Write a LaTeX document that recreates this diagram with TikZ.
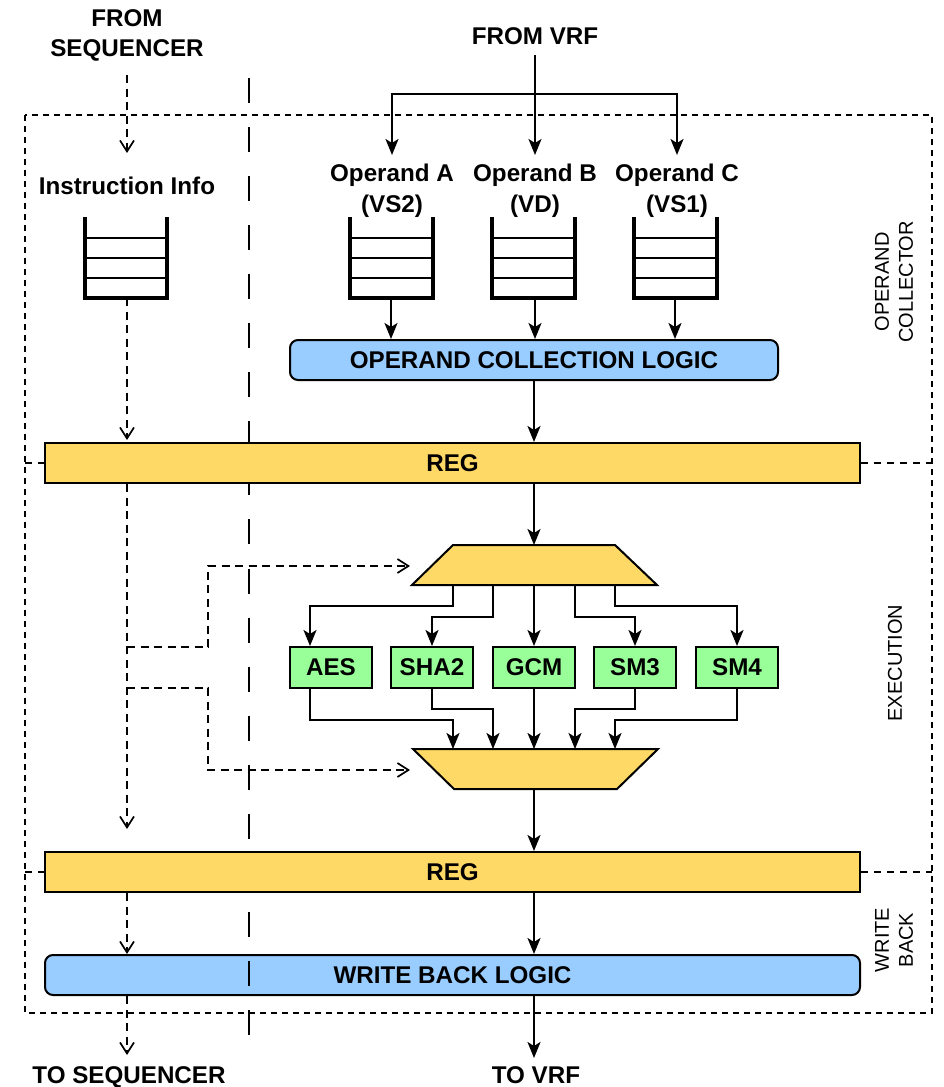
\documentclass[tikz,border=0pt]{standalone}
\usepackage{fontspec}
\setmainfont{Liberation Sans}
\usetikzlibrary{arrows.meta,calc}
\definecolor{regY}{RGB}{255,217,102}
\definecolor{logB}{RGB}{153,204,255}
\definecolor{unitG}{RGB}{153,255,153}
\newcommand\drawqueue[1]{%
  \draw[qwall] (#1.north west) -- (#1.south west) -- (#1.south east) -- (#1.north east);
  \foreach \dd in {21,41,61} {\draw[qline] ($(#1.north west)+(0,\dd)$) -- ($(#1.north east)+(0,\dd)$);}%
}
\begin{document}
\begin{tikzpicture}[x=1pt,y=-1pt,
  lbl/.style={font=\fontsize{24.2}{31}\selectfont\bfseries, align=center, inner sep=0pt},
  side/.style={font=\fontsize{20}{24}\selectfont, align=center, rotate=90, inner sep=0pt},
  boxfont/.style={font=\fontsize{24.2}{28}\selectfont\bfseries},
  regbox/.style={draw, line width=2pt, fill=regY, minimum width=815pt, minimum height=40pt, inner sep=0pt, boxfont},
  logicbox/.style={draw, line width=2pt, fill=logB, rounded corners=8pt, minimum height=40pt, inner sep=0pt, boxfont},
  unitbox/.style={draw, line width=2pt, fill=unitG, minimum width=82pt, minimum height=41pt, inner sep=0pt, boxfont},
  muxshape/.style={draw, line width=2pt, fill=regY, line join=miter},
  qbox/.style={minimum width=83pt, minimum height=81pt, inner sep=0pt, outer sep=0pt},
  qwall/.style={line width=4pt, line join=miter},
  qline/.style={line width=2pt},
  border/.style={line width=2pt, dash pattern=on 6pt off 5pt},
  sepline/.style={line width=2pt, dash pattern=on 7pt off 6pt},
  longdash/.style={line width=2pt, dash pattern=on 25pt off 24.05pt},
  conn/.style={line width=2pt, -{Stealth[length=16pt,width=13pt,inset=4pt]}},
  ctrl/.style={line width=2pt, dash pattern=on 8pt off 5.5pt, -{Straight Barb[length=11pt,width=14pt,line width=1.7pt]}}
]
\useasboundingbox (0,0) rectangle (943,1087);

% outer dotted border
\draw[border] (25,115) rectangle (932,1013);

% text labels
\node[lbl, anchor=north, font=\fontsize{24.2}{30}\selectfont\bfseries] (seq) at (127,9.5) {FROM\\SEQUENCER};
\node[lbl] (vrf) at (535,36) {FROM VRF};
\node[lbl] (info) at (127,186) {Instruction Info};
\node[lbl, anchor=north, font=\fontsize{24.2}{31}\selectfont\bfseries] (opA) at (392,164) {Operand A\\(VS2)};
\node[lbl, anchor=north, font=\fontsize{24.2}{31}\selectfont\bfseries] (opB) at (535,164) {Operand B\\(VD)};
\node[lbl, anchor=north, font=\fontsize{24.2}{31}\selectfont\bfseries] (opC) at (677,164) {Operand C\\(VS1)};
\node[lbl, anchor=north] (toseq) at (129,1066.5) {TO SEQUENCER};
\node[lbl, anchor=north] (tovrf) at (536,1066.5) {TO VRF};

% side labels
\node[side] (secOC) at (894,282) {OPERAND\\COLLECTOR};
\node[side] (secEX) at (895,663) {EXECUTION};
\node[side] (secWB) at (894,940) {WRITE\\BACK};

% queues
\node[qbox, minimum width=82pt] (qI) at (126,257.5) {};
\node[qbox] (qA) at (391,257.5) {};
\node[qbox] (qB) at (533,257.5) {};
\node[qbox] (qC) at (675,257.5) {};
\drawqueue{qI}
\drawqueue{qA}
\drawqueue{qB}
\drawqueue{qC}

% operand collection logic
\node[logicbox, minimum width=488pt] (ocl) at (534,360) {OPERAND COLLECTION LOGIC};

% muxes
\path[muxshape] (453,545) -- (615,545) -- (657,585) -- (412,585) -- cycle;
\path[muxshape] (413,749) -- (658,749) -- (617,789) -- (454,789) -- cycle;
\coordinate (m1in) at (534,545);
\coordinate (m1a) at (453,585);
\coordinate (m1b) at (493,585);
\coordinate (m1c) at (534,585);
\coordinate (m1d) at (575,585);
\coordinate (m1e) at (615,585);
\coordinate (m2a) at (453,749);
\coordinate (m2b) at (493,749);
\coordinate (m2c) at (534,749);
\coordinate (m2d) at (575,749);
\coordinate (m2e) at (615,749);
\coordinate (m2out) at (534,789);

% crypto units
\node[unitbox] (aes) at (331,667.5) {AES};
\node[unitbox] (sha) at (432,667.5) {SHA2};
\node[unitbox] (gcm) at (534,667.5) {GCM};
\node[unitbox] (sm3) at (635,667.5) {SM3};
\node[unitbox] (sm4) at (737,667.5) {SM4};

% write back logic, long dashed divider, registers
\node[logicbox, minimum width=815pt] (wbl) at (452.5,975) {WRITE BACK LOGIC};
\draw[longdash] (249,78) -- (249,1035);
\node[regbox] (reg1) at (452.5,463) {REG};
\node[regbox] (reg2) at (452.5,872) {REG};

% stage separators
\draw[sepline] (25,463) -- (reg1.west);
\draw[sepline] (reg1.east) -- (932,463);
\draw[sepline] (25,872) -- (reg2.west);
\draw[sepline] (reg2.east) -- (932,872);

% data path
\coordinate (vrfout) at (535,55);
\coordinate (fan) at (535,94);
\coordinate (inA) at (392,155);
\coordinate (inB) at (535,155);
\coordinate (inC) at (677,155);
\draw[conn] (vrfout) -- (inB);
\draw[conn] (fan) -| (inA);
\draw[conn] (fan) -| (inC);
\draw[conn] (qA.south) -- (qA.south |- ocl.north);
\draw[conn] ([xshift=2pt]qB.south) -- ([xshift=2pt]qB.south |- ocl.north);
\draw[conn] (qC.south) -- (qC.south |- ocl.north);
\draw[conn] (ocl.south) -- (ocl.south |- reg1.north);
\draw[conn] (ocl.south |- reg1.south) -- (m1in);

\draw[conn] (m1a) -- ++(0,21) -| ([xshift=-21pt]aes.north);
\draw[conn] (m1b) -- ++(0,32) -| (sha.north);
\draw[conn] (m1c) -- (gcm.north);
\draw[conn] (m1d) -- ++(0,32) -| (sm3.north);
\draw[conn] (m1e) -- ++(0,21) -| (sm4.north);

\draw[conn] ([xshift=-21pt]aes.south) -- ++(0,31) -| (m2a);
\draw[conn] (sha.south) -- ++(0,20) -| (m2b);
\draw[conn] (gcm.south) -- (m2c);
\draw[conn] (sm3.south) -- ++(0,20) -| (m2d);
\draw[conn] (sm4.south) -- ++(0,31) -| (m2e);

\draw[conn] (m2out) -- (m2out |- reg2.north);
\draw[conn] (m2out |- reg2.south) -- (m2out |- wbl.north);
\coordinate (vrfend) at (534,1058);
\draw[conn] (m2out |- wbl.south) -- (vrfend);

% control path
\coordinate (seqout) at (127,75);
\coordinate (infoin) at (127,153);
\coordinate (ctrlend) at (127,829);
\coordinate (br1) at (127,647);
\coordinate (br2) at (127,688);
\coordinate (mux1ctl) at (410,566);
\coordinate (mux2ctl) at (410,770);
\coordinate (seqend) at (127,1055);
\draw[ctrl] (seqout) -- (infoin);
\draw[ctrl, shorten >=2pt] (seqout |- qI.south) -- (seqout |- reg1.north);
\draw[ctrl] (seqout |- reg1.south) -- (ctrlend);
\draw[ctrl] (br1) -- ++(81,0) |- (mux1ctl);
\draw[ctrl] (br2) -- ++(81,0) |- (mux2ctl);
\draw[ctrl] (seqout |- reg2.south) -- (seqout |- wbl.north);
\draw[ctrl] (seqout |- wbl.south) -- (seqend);
\end{tikzpicture}
\end{document}
